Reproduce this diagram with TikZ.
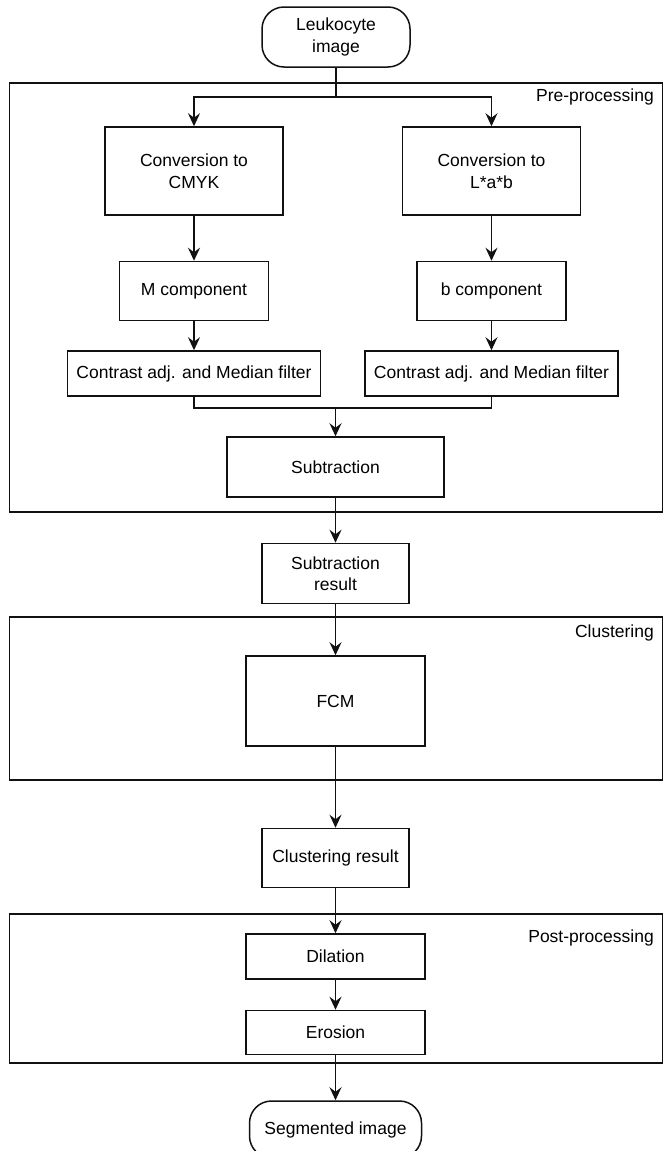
\documentclass[tikz,border=0pt]{standalone}
\usepackage{fontspec}
\setmainfont{Liberation Sans}
\usepackage{xcolor}
\usepackage{tikz}
\usetikzlibrary{arrows.meta,positioning}
\definecolor{segline}{HTML}{111111}
\tikzset{%
  segbox/.style={%
    draw=segline,
    line width=1.5pt,
    fill=white,
    inner sep=0pt,
    align=center,
    font=\fontsize{17.5}{21.5}\selectfont
  },
  segterm/.style={%
    segbox,
    rounded corners=22pt
  },
  segframe/.style={draw=segline,line width=1.5pt,inner sep=0pt,anchor=north west},
  seglabel/.style={anchor=north east,inner sep=0pt,font=\fontsize{17.5}{21.5}\selectfont},
  seglink/.style={draw=segline,line width=1.5pt},
  segarrow/.style={-{Stealth[length=13pt,width=12pt,inset=4.5pt]},draw=segline,line width=1.5pt}
}

\begin{document}
\begin{tikzpicture}[x=1pt,y=-1pt]
    \fill[white] (0,0) rectangle (662,1151);
    \useasboundingbox (0,0) rectangle (662,1151);

    % stage frames
    \node[segframe,minimum width=653pt,minimum height=429pt] (pre) at (8.5,82) {};
    \node[segframe,minimum width=653pt,minimum height=163pt] (clust) at (8.5,616) {};
    \node[segframe,minimum width=653pt,minimum height=149pt] (post) at (8.5,913) {};
    \node[seglabel] (prelabel) at (654,88.5) {Pre-processing};
    \node[seglabel] (clustlabel) at (654,624.5) {Clustering};
    \node[seglabel] (postlabel) at (654,929.5) {Post-processing};

    \node[segterm,minimum width=148pt,minimum height=60pt] (leuko) at (336,37) {Leukocyte\\image};
    \node[segbox,minimum width=178pt,minimum height=88pt] (convcmyk) at (194,171) {Conversion to\\CMYK};
    \node[segbox,minimum width=178pt,minimum height=88pt] (convlab) at (491.5,171) {Conversion to\\L*a*b};
    \node[segbox,minimum width=149pt,minimum height=59pt,below=45pt of convcmyk] (mcomp) {M component};
    \node[segbox,minimum width=149pt,minimum height=59pt,below=45pt of convlab] (bcomp) {b component};
    \node[segbox,minimum width=253pt,minimum height=45pt,below=29pt of mcomp] (contrastm) {Contrast adj. and Median filter};
    \node[segbox,minimum width=253pt,minimum height=45pt,below=29pt of bcomp] (contrastb) {Contrast adj. and Median filter};
    \node[segbox,minimum width=217pt,minimum height=60pt] (subtr) at (335.5,467) {Subtraction};
    \node[segbox,minimum width=147pt,minimum height=60pt,below=45pt of subtr] (subres) {Subtraction\\result};
    \node[segbox,minimum width=179pt,minimum height=90pt,below=51pt of subres] (fcm) {FCM};
    \node[segbox,minimum width=147pt,minimum height=59pt,below=81pt of fcm] (clusres) {Clustering result};
    \node[segbox,minimum width=179pt,minimum height=45pt,below=45pt of clusres] (dilation) {Dilation};
    \node[segbox,minimum width=179pt,minimum height=44pt,below=30pt of dilation] (erosion) {Erosion};
    \node[segterm,minimum width=172pt,minimum height=57pt,below=45pt of erosion] (segm) {Segmented image};

    \coordinate (split) at (336,97);
    \coordinate (merge) at (335.5,408);

    \draw[seglink] (leuko.south) -- (split);
    \draw[segarrow] (split) -| (convcmyk.north);
    \draw[segarrow] (split) -| (convlab.north);
    \draw[segarrow] (convcmyk) -- (mcomp);
    \draw[segarrow] (convlab) -- (bcomp);
    \draw[segarrow] (mcomp) -- (contrastm);
    \draw[segarrow] (bcomp) -- (contrastb);
    \draw[seglink] (contrastm.south) |- (merge) -| (contrastb.south);
    \draw[segarrow] (merge) -- (subtr.north);
    \draw[segarrow] (subtr) -- (subres);
    \draw[segarrow] (subres) -- (fcm);
    \draw[segarrow] (fcm) -- (clusres);
    \draw[segarrow] (clusres) -- (dilation);
    \draw[segarrow] (dilation) -- (erosion);
    \draw[segarrow] (erosion) -- (segm);
\end{tikzpicture}
\end{document}
